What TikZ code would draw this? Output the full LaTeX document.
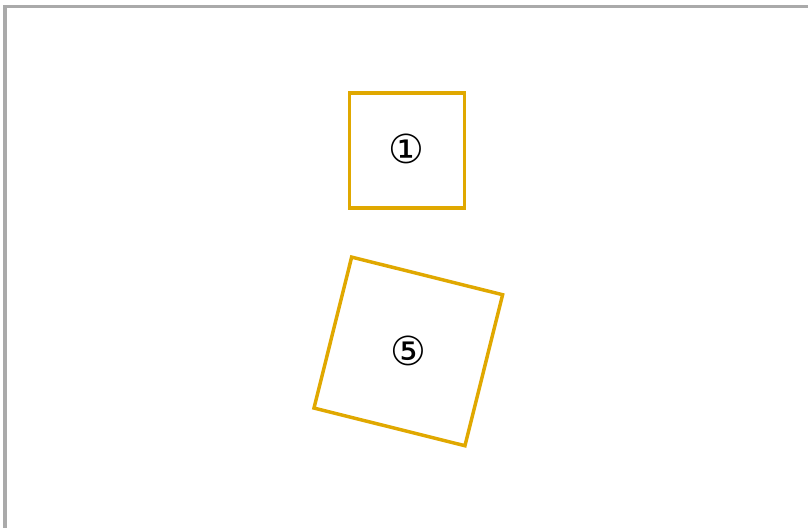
\documentclass[tikz,border=0pt]{standalone}
\usepackage{fontspec}
\setmainfont{DejaVu Sans}
\definecolor{boxgold}{RGB}{224,168,0}
\definecolor{framegray}{RGB}{170,170,170}

\begin{document}
\begin{tikzpicture}[x=0.75pt,y=-0.75pt,
  boxline/.style={draw=boxgold,line width=2.6pt,inner sep=0pt},
  numlabel/.style={font=\fontsize{30}{30}\selectfont,inner sep=0pt}]
\useasboundingbox (0,0) rectangle (808,528);
\coordinate (fb) at (5,528);
\coordinate (fc) at (5,6.5);
\coordinate (fr) at (808,6.5);
\draw[framegray,line width=2.6pt] (fb)--(fc)--(fr);
\node[boxline,minimum size=86.25pt] (sq1) at (407,150.5) {};
\node[numlabel] (l1) at (406.7,149) {①};
\node[boxline,minimum size=116.7pt,rotate=-14] (sq5) at (408.3,351.4) {};
\node[numlabel] (l5) at (sq5) {⑤};
\end{tikzpicture}
\end{document}
